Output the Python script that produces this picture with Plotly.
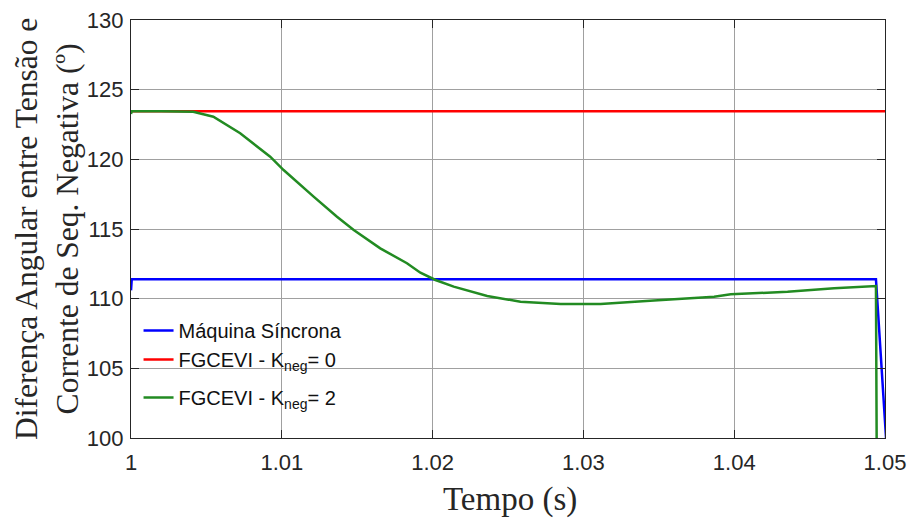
import plotly.graph_objects as go

# Data
t_blue = [1.0, 1.00005, 1.01, 1.02, 1.03, 1.04, 1.0494, 1.05007]
y_blue = [110.6, 111.4, 111.4, 111.4, 111.4, 111.4, 111.4, 100.0]

t_red = [1.0, 1.01, 1.02, 1.03, 1.04, 1.05]
y_red = [123.45, 123.45, 123.45, 123.45, 123.45, 123.45]

t_green = [1.0, 1.00005, 1.002, 1.00325, 1.00413, 1.00546, 1.00724, 1.00923, 1.01012,
           1.01211, 1.01366, 1.01477, 1.01653, 1.0183, 1.01919, 1.02019, 1.0214,
           1.02362, 1.02583, 1.02849, 1.03114, 1.03468, 1.03867, 1.03977, 1.04354,
           1.04663, 1.0484, 1.0494, 1.04945]
y_green = [123.25, 123.45, 123.45, 123.45, 123.42, 123.06, 121.87, 120.19, 119.23,
           117.32, 115.88, 114.93, 113.61, 112.54, 111.86, 111.34, 110.86,
           110.19, 109.78, 109.62, 109.62, 109.86, 110.14, 110.31, 110.5,
           110.74, 110.82, 110.91, 99.0]

names = ["Máquina Síncrona",
         "FGCEVI - K<sub>neg</sub>= 0",
         "FGCEVI - K<sub>neg</sub>= 2"]

x_ticks = [1.0, 1.01, 1.02, 1.03, 1.04, 1.05]
x_tick_labels = ["1", "1.01", "1.02", "1.03", "1.04", "1.05"]
y_ticks = [100, 105, 110, 115, 120, 125, 130]

fig = go.Figure()
fig.add_trace(go.Scatter(x=t_blue, y=y_blue, mode="lines", name=names[0], legendgroup="a",
                         line=dict(color="#0000ff", width=2.5)))
fig.add_trace(go.Scatter(x=t_red, y=y_red, mode="lines", name=names[1], legendgroup="a",
                         line=dict(color="#ff0000", width=2.5)))
fig.add_trace(go.Scatter(x=t_green, y=y_green, mode="lines", name=names[2], legendgroup="b",
                         line=dict(color="#228b22", width=2.5)))

axis_common = dict(
    showline=True, linecolor="#262626", linewidth=1.2, mirror="ticks",
    ticks="inside", ticklen=8, tickcolor="#262626",
    showgrid=True, gridcolor="#a0a0a0", gridwidth=1, zeroline=False,
    automargin=False, ticklabeloverflow="allow",
    tickfont=dict(family="Liberation Sans, Arial", size=22, color="#262626"),
)

serif = "Liberation Serif, Times New Roman"

# The page body adds an 8px offset, so margins are reduced by 8px on left/top
fig.update_layout(
    width=919, height=521,
    margin=dict(l=123, r=42, t=12, b=91),
    paper_bgcolor="white", plot_bgcolor="white",
    showlegend=True,
    legend=dict(x=0.01, y=0.304, xanchor="left", yanchor="top",
                bgcolor="rgba(0,0,0,0)", borderwidth=0,
                font=dict(family="Liberation Sans, Arial", size=20, color="#111"),
                tracegroupgap=9),
    xaxis=dict(range=[1.0, 1.05], tickvals=x_ticks, ticktext=x_tick_labels,
               ticklabelstandoff=4, **axis_common),
    yaxis=dict(range=[100, 130], tickvals=y_ticks, ticklabelstandoff=2,
               **axis_common),
)

# Axis titles
fig.add_annotation(text="Tempo (s)", xref="paper", yref="paper", x=0.503, y=-0.148,
                   xanchor="center", yanchor="middle", showarrow=False,
                   font=dict(family=serif, size=33, color="#262626"))
fig.add_annotation(text="Diferença Angular entre Tensão e<br>Corrente de Seq. Negativa (º)",
                   xref="paper", yref="paper", x=0, y=0.5, xshift=-84,
                   xanchor="center", yanchor="middle", showarrow=False, textangle=-90,
                   font=dict(family=serif, size=31.5, color="#262626"))

# Panel label, mostly cut off at the top edge as in the reference
fig.add_annotation(text="(b)", xref="paper", yref="paper", x=0.436, y=1.0, yshift=10,
                   xanchor="center", yanchor="bottom", showarrow=False,
                   font=dict(family=serif, size=22, color="#262626"))

fig.write_html("out.html")
